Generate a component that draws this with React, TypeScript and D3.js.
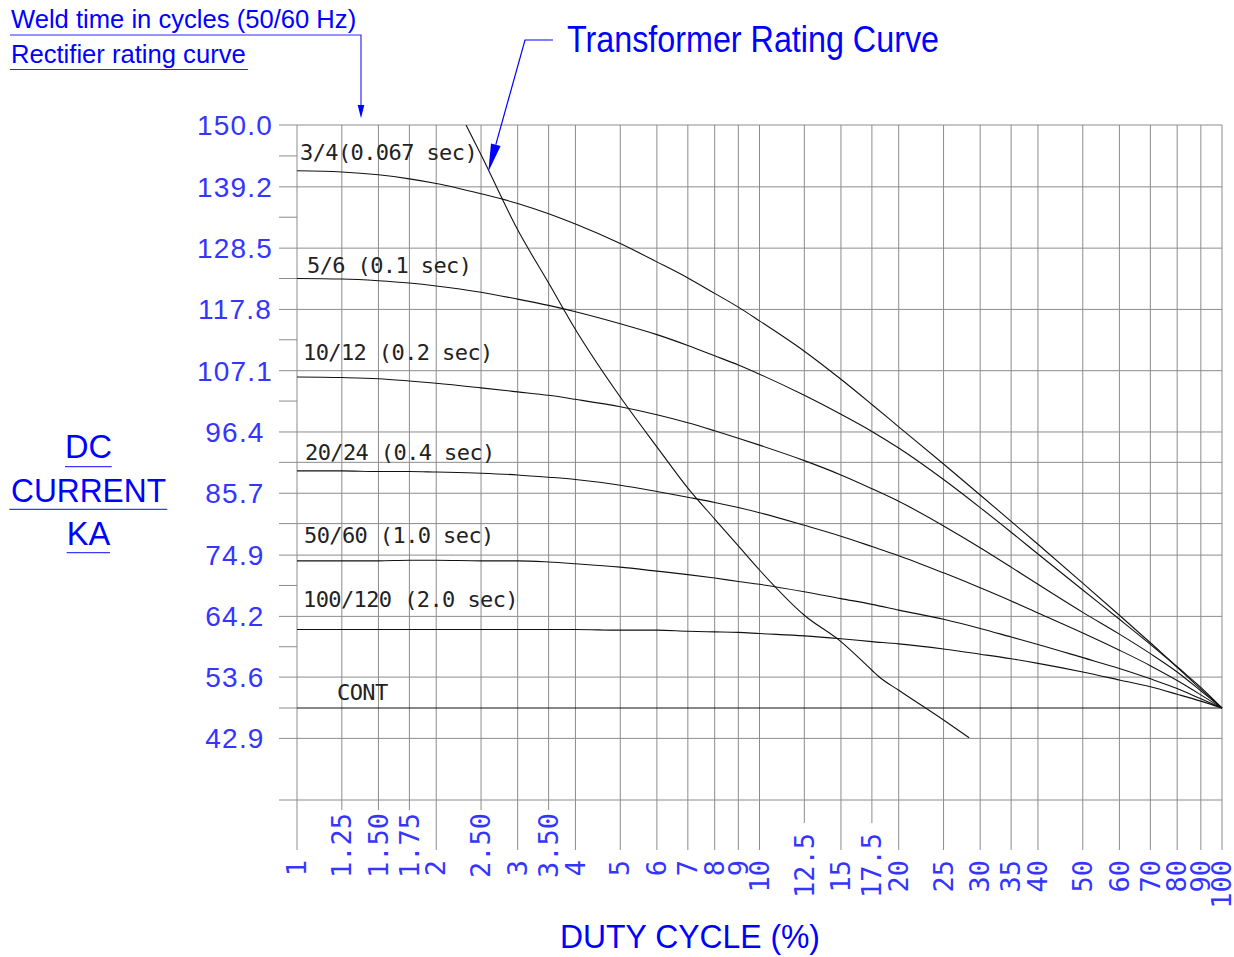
import React from 'react';
import * as d3 from 'd3';

// duty cycle axis (log)
const dutyTicks = [1, 1.25, 1.5, 1.75, 2, 2.5, 3, 3.5, 4, 5, 6, 7, 8, 9, 10, 12.5, 15, 17.5, 20, 25, 30, 35, 40, 50, 60, 70, 80, 90, 100];
const dutyTickLabels = ['1', '1.25', '1.50', '1.75', '2', '2.50', '3', '3.50', '4', '5', '6', '7', '8', '9', '10', '12.5', '15', '17.5', '20', '25', '30', '35', '40', '50', '60', '70', '80', '90', '100'];

// current axis (KA)
const currentTicks = [150.0, 139.2, 128.5, 117.8, 107.1, 96.4, 85.7, 74.9, 64.2, 53.6, 42.9];
const currentTickLabels = ['150.0', '139.2', '128.5', '117.8', '107.1', '96.4', '85.7', '74.9', '64.2', '53.6', '42.9'];
const currentHalfTicks = [144.6, 133.9, 123.2, 112.5, 101.8, 69.6, 58.9, 48.2];
const currentHalfLines = [91.1, 80.4];
const currentFloor = 32.14;
const currentTop = 150;

// rectifier rating curves, sampled at the duty grid
const dutyPoints = [1, 1.25, 1.5, 1.75, 2, 2.5, 3, 3.5, 4, 5, 6, 7, 8, 9, 10, 12.5, 15, 17.5, 20, 25, 30, 35, 40, 50, 60, 70, 80, 90, 100];
const curve3_4 = [142.0, 141.8, 141.3, 140.6, 139.8, 138.0, 136.3, 134.5, 132.7, 129.3, 126.1, 123.3, 120.6, 118.2, 115.8, 110.5, 105.6, 101.2, 97.3, 90.8, 85.4, 80.8, 76.8, 70.0, 64.4, 59.6, 55.4, 51.8, 48.2];
const curve5_6 = [123.2, 123.1, 122.8, 122.4, 121.9, 120.8, 119.6, 118.5, 117.4, 115.3, 113.4, 111.5, 109.7, 108.1, 106.5, 102.8, 99.5, 96.5, 93.6, 88.1, 83.2, 78.9, 75.1, 68.8, 63.7, 59.3, 55.3, 51.5, 48.2];
const curve10_12 = [106.0, 105.9, 105.7, 105.3, 104.9, 104.1, 103.4, 102.8, 102.1, 100.8, 99.4, 98.0, 96.6, 95.3, 94.1, 91.4, 88.9, 86.5, 84.3, 80.0, 76.2, 72.8, 69.8, 64.9, 61.1, 57.7, 54.5, 51.2, 48.2];
const curve20_24 = [89.6, 89.6, 89.5, 89.5, 89.4, 89.2, 88.9, 88.5, 88.1, 87.1, 86.0, 85.0, 84.1, 83.2, 82.3, 80.1, 78.2, 76.4, 74.8, 71.8, 69.2, 66.9, 64.8, 61.3, 58.3, 55.6, 53.0, 50.5, 48.2];
const curve50_60 = [73.9, 73.9, 73.9, 74.0, 74.0, 73.9, 73.9, 73.7, 73.4, 72.8, 72.1, 71.5, 70.9, 70.3, 69.8, 68.5, 67.3, 66.3, 65.3, 63.7, 62.1, 60.6, 59.3, 57.0, 55.1, 53.3, 51.6, 49.8, 48.2];
const curve100_120 = [61.9, 61.9, 61.9, 61.9, 61.9, 61.9, 61.9, 61.9, 61.9, 61.8, 61.8, 61.6, 61.5, 61.4, 61.2, 60.8, 60.3, 59.8, 59.4, 58.5, 57.6, 56.8, 56.0, 54.5, 53.1, 51.9, 50.6, 49.4, 48.2];
const contDuty = [1, 100];
const contCurrent = [48.2, 48.2];

const curveLabels = ['3/4(0.067 sec)', '5/6 (0.1 sec)', '10/12 (0.2 sec)', '20/24 (0.4 sec)', '50/60 (1.0 sec)', '100/120 (2.0 sec)', 'CONT'];

// transformer rating curve
const transformerDuty = [2.32, 2.5, 3, 3.5, 4, 5, 6, 7, 8, 9, 10, 12.5, 15, 17.5, 18.1, 20, 25, 28.4];
const transformerCurrent = [150, 144.8, 131.7, 122.4, 114.3, 102.5, 93.8, 86.6, 81.2, 76.5, 72.3, 64.4, 59.8, 54.8, 53.7, 51.3, 46.1, 43.0];

const BLUE = '#0000ff';
const TICK_BLUE = '#3535ff';
const GRID = '#8c8c8c';

const App: React.FC = () => {
  const x = d3.scaleLog().domain([1, 100]).range([297, 1222]);
  const y = d3.scaleLinear().domain([currentFloor, currentTop]).range([800, 125]);
  const line = d3.line<[number, number]>()
    .x(d => x(d[0]))
    .y(d => y(d[1]))
    .curve(d3.curveMonotoneX);

  const series = [curve3_4, curve5_6, curve10_12, curve20_24, curve50_60, curve100_120]
    .map(vals => dutyPoints.map((p, i) => [p, vals[i]] as [number, number]));
  series.push(contDuty.map((p, i) => [p, contCurrent[i]] as [number, number]));
  const transformer = transformerDuty.map((p, i) => [p, transformerCurrent[i]] as [number, number]);

  // label placement relative to each curve's start
  const labelOffsets = [
    { dx: 3, dy: -11 }, { dx: 10, dy: -5 }, { dx: 6, dy: -17 }, { dx: 8, dy: -11 },
    { dx: 7, dy: -18 }, { dx: 6, dy: -23 }, { dx: 40, dy: -8 },
  ];

  const left = x(1);
  const right = x(100);
  const axisLeft = left - 18;

  return (
    <svg width={1234} height={957} style={{ position: 'absolute', left: 0, top: 0, background: '#fff' }}>
      {/* horizontal grid */}
      <g stroke={GRID} strokeWidth={1}>
        {[...currentTicks, ...currentHalfLines, currentFloor].map(v => (
          <line key={'h' + v} x1={axisLeft} x2={right} y1={y(v)} y2={y(v)} />
        ))}
        {currentHalfTicks.map(v => (
          <line key={'t' + v} x1={axisLeft} x2={left} y1={y(v)} y2={y(v)} />
        ))}
      </g>

      {/* vertical grid + ticks */}
      <g stroke={GRID} strokeWidth={1}>
        {dutyTicks.map((v, i) => {
          const raised = dutyTickLabels[i].includes('.');
          const end = raised ? (v < 10 ? 810 : 823) : 850;
          return <line key={'v' + v} x1={x(v)} x2={x(v)} y1={y(currentTop)} y2={end} />;
        })}
      </g>

      {/* y tick labels */}
      <g fill={TICK_BLUE} fontFamily="'Liberation Sans', Arial, sans-serif" fontSize={28} letterSpacing={1.2} textAnchor="middle">
        {currentTicks.map((v, i) => (
          <text key={'yl' + v} x={235} y={y(v)} dy="0.36em">{currentTickLabels[i]}</text>
        ))}
      </g>

      {/* x tick labels, rotated */}
      <g fill={TICK_BLUE} fontFamily="'DejaVu Sans Mono', monospace" fontSize={27} textAnchor="end">
        {dutyTicks.map((v, i) => {
          const lab = dutyTickLabels[i];
          const raised = lab.includes('.');
          const top = raised ? (v < 10 ? 813 : 833) : 860;
          return (
            <text key={'xl' + v} transform={`translate(${x(v)},${top}) rotate(-90)`} dy="0.34em">{lab}</text>
          );
        })}
      </g>

      {/* rating curves */}
      <g fill="none" stroke="#111" strokeWidth={1.1}>
        {series.map((s, i) => <path key={'c' + i} d={line(s) || ''} />)}
        <path d={line(transformer) || ''} />
      </g>

      {/* curve labels */}
      <g fill="#222" fontFamily="'DejaVu Sans Mono', monospace" fontSize={22} letterSpacing={-0.6}>
        {curveLabels.map((lab, i) => (
          <text key={'cl' + i} x={left + labelOffsets[i].dx} y={y(series[i][0][1]) + labelOffsets[i].dy}>{lab}</text>
        ))}
      </g>

      {/* top-left annotation */}
      <g fill={BLUE} fontFamily="'Liberation Sans', Arial, sans-serif" fontSize={25.6}>
        <text x={11} y={28}>Weld time in cycles (50/60 Hz)</text>
        <text x={11} y={63}>Rectifier rating curve</text>
      </g>
      <g stroke="#2a2aff" strokeWidth={1.2} fill="none">
        <path d="M10,35 H361 V106" />
        <path d="M10,69.5 H248" />
      </g>
      <path d="M357.7,105 L364.3,105 L361,118.3 Z" fill={BLUE} />

      {/* transformer annotation */}
      <text x={567} y={51.7} fill={BLUE} fontFamily="'Liberation Sans', Arial, sans-serif" fontSize={37}
        textLength={372} lengthAdjust="spacingAndGlyphs">Transformer Rating Curve</text>
      <path d="M553,40 H525 L495.8,144.7" stroke={BLUE} strokeWidth={1.2} fill="none" />
      <path d="M491,143.4 L500.6,146 L488.3,171.7 Z" fill={BLUE} />

      {/* y axis title */}
      <g fill={BLUE} fontFamily="'Liberation Sans', Arial, sans-serif" fontSize={32.6} textAnchor="middle">
        <text x={88.5} y={458.3}>DC</text>
        <text x={88.5} y={501.7} textLength={155} lengthAdjust="spacingAndGlyphs">CURRENT</text>
        <text x={88.5} y={545}>KA</text>
      </g>
      <g stroke="#3a3aff" strokeWidth={1.2}>
        <line x1={65} x2={111.7} y1={466.7} y2={466.7} />
        <line x1={9.3} x2={167.3} y1={509.3} y2={509.3} />
        <line x1={66.7} x2={110} y1={552.7} y2={552.7} />
      </g>

      {/* x axis title */}
      <text x={560} y={948.3} fill={BLUE} fontFamily="'Liberation Sans', Arial, sans-serif" fontSize={32.6}
        textLength={260} lengthAdjust="spacingAndGlyphs">DUTY CYCLE (%)</text>
    </svg>
  );
};

export default App;
